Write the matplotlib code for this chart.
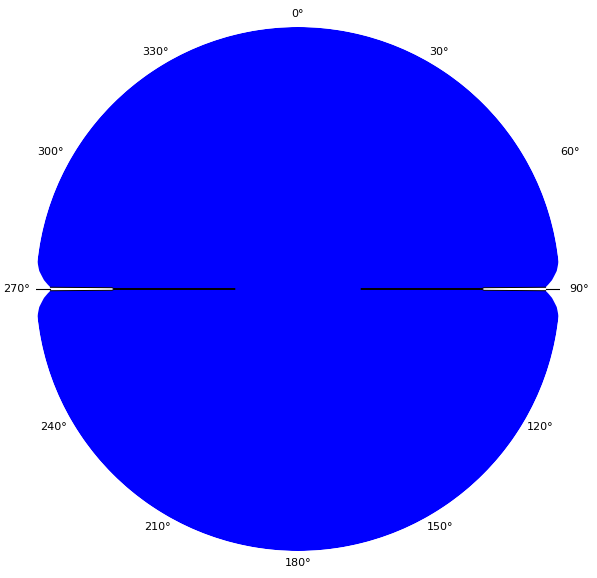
import matplotlib
matplotlib.use("Agg")
import matplotlib.pyplot as plt
import numpy as np

# pattern outline (deg, normalised radius)
angles = [0, 10, 20, 30, 40, 50, 60, 70, 75, 80, 84, 86, 88, 89,
          89.6, 89.6, 89.97, 90, 90.03, 90.4, 90.4,
          91, 92, 94, 96, 100, 105, 110, 120, 130, 140, 150, 160, 170, 180, 190, 200, 210,
          220, 230, 240, 250, 255, 260, 264, 266, 268, 269,
          269.6, 269.6, 269.97, 270, 270.03, 270.4, 270.4,
          271, 272, 274, 276, 280, 285, 290, 300, 310, 320, 330, 340, 350, 360]
radius = [1.0, 1.0, 1.0, 1.0, 1.0, 1.0, 1.0, 1.0, 1.0, 1.0, 1.0, 0.99, 0.97, 0.955,
          0.945, 0.71, 0.70, 0.24, 0.70, 0.71, 0.945,
          0.955, 0.97, 0.99, 1.0, 1.0, 1.0, 1.0, 1.0, 1.0, 1.0, 1.0, 1.0, 1.0, 1.0, 1.0, 1.0, 1.0,
          1.0, 1.0, 1.0, 1.0, 1.0, 1.0, 1.0, 0.99, 0.97, 0.955,
          0.945, 0.71, 0.70, 0.24, 0.70, 0.71, 0.945,
          0.955, 0.97, 0.99, 1.0, 1.0, 1.0, 1.0, 1.0, 1.0, 1.0, 1.0, 1.0, 1.0, 1.0]

# null directions, and how far their marker line runs outward
null_angles = [90, 270]
null_outer = 1.008

# angle labels and where they sit
tick_labels = [f"{a}\u00b0" for a in range(0, 360, 30)]
label_theta = [0, 30.7, 63.3, 90, 119.7, 149.2, 180, 210.5, 240.6, 270, 298.9, 328.9]
label_r = [1.05, 1.053, 1.163, 1.073, 1.063, 1.057, 1.046, 1.054, 1.073, 1.073, 1.08, 1.057]

fig = plt.figure(figsize=(5.97, 5.78), dpi=100)
ax = fig.add_axes([36 / 597, 27 / 578, 524 / 597, 524 / 578], projection="polar")
ax.set_theta_zero_location("N")
ax.set_theta_direction(-1)

th = np.deg2rad(angles)
poly = ax.fill(th, radius, color="#0000ff", lw=0, zorder=2)[0]
poly.get_path()._interpolation_steps = 40

# black outline of the narrow nulls
for a in null_angles:
    sel = [i for i, t in enumerate(angles) if abs(t - a) <= 0.45]
    r_sel = [radius[i] for i in sel]
    ax.plot(np.deg2rad([angles[i] for i in sel]), r_sel, color="black", lw=0.7, zorder=3)
    ax.plot(np.deg2rad([a, a]), [r_sel[0], null_outer], color="black", lw=0.8, zorder=3)

ax.set_ylim(0, 1.0)
ax.set_yticks([])
ax.set_xticks([])
ax.grid(False)
ax.spines["polar"].set_visible(False)

for t, r, s in zip(label_theta, label_r, tick_labels):
    ax.text(np.deg2rad(t), r, s, ha="center", va="center", fontsize=8, color="black")

fig.savefig("out.png", dpi=100)
